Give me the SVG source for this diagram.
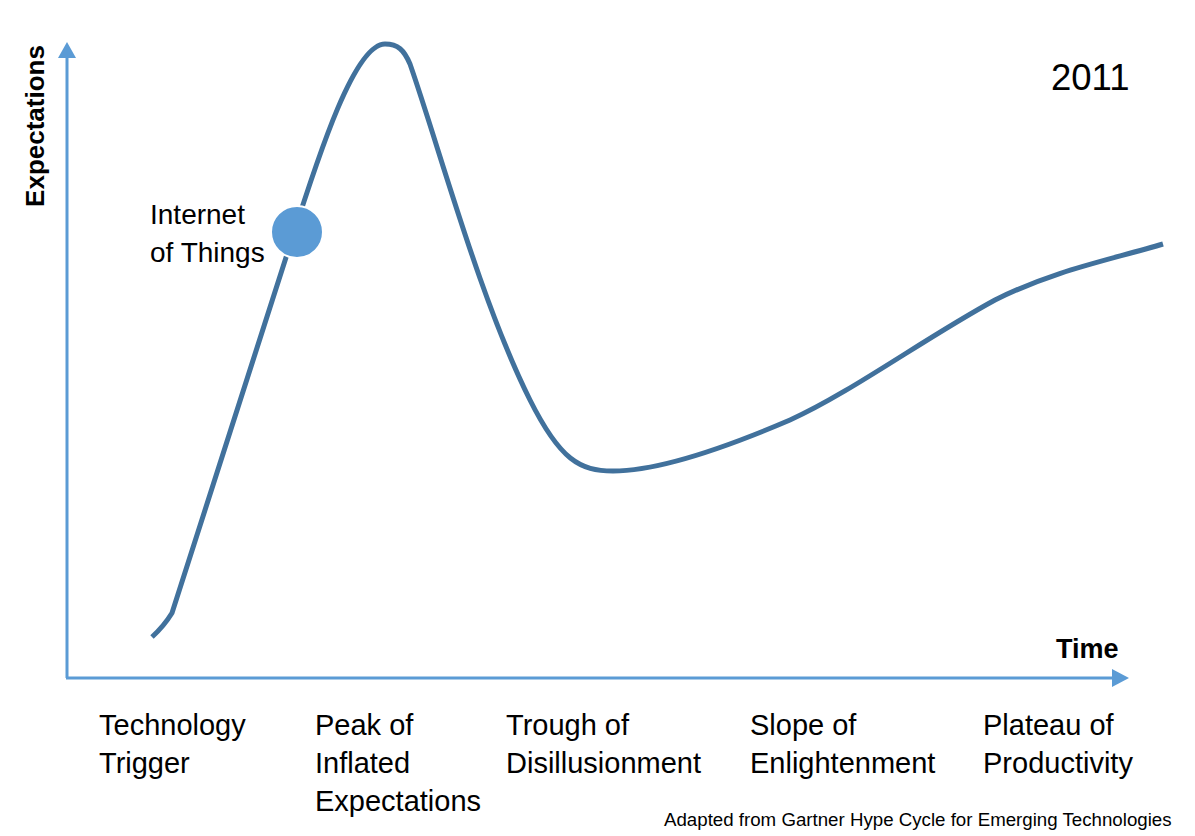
<svg xmlns="http://www.w3.org/2000/svg" width="1195" height="836" viewBox="0 0 1195 836">
<style>
.lbl{font-family:"Liberation Sans",Arial,sans-serif;font-size:29px;fill:#000}
.bold{font-family:"Liberation Sans",Arial,sans-serif;font-weight:bold;font-size:26px;fill:#000}
.axis{stroke:#5b9bd5;stroke-width:3;fill:none}
.head{fill:#5b9bd5}
.curve{stroke:#41719c;stroke-width:5;fill:none;stroke-linejoin:round}
</style>
<rect width="1195" height="836" fill="#fff"/>
<g id="connectors">
  <line class="axis" x1="67" y1="678" x2="67" y2="56"/>
  <polygon class="head" points="67,42 58,58 76,58"/>
  <line class="axis" x1="66" y1="678" x2="1114" y2="678"/>
  <polygon class="head" points="1129,678 1112,669 1112,687"/>
  <path class="curve" d="M152,637 Q164,626 172,613 L290,245 C320,150 355,44 385,44 C398,44 404,50 410,64 C440,150 480,300 530,400 C560,460 580,471 613,471 C655,471 720,450 790,420 C850,393 925,338 995,300 C1055,270 1110,260 1163,244"/>
</g>
<g id="axis-labels">
  <text class="bold" transform="translate(44,126) rotate(-90)" text-anchor="middle">Expectations</text>
  <text class="bold" x="1056" y="658" style="font-size:27px">Time</text>
</g>
<g id="year"><text class="lbl" x="1051" y="90" style="font-size:36.5px">2011</text></g>
<g id="iot">
  <circle cx="297" cy="232" r="26" fill="#5b9bd5" stroke="#fff" stroke-width="2"/>
  <text class="lbl" x="150" y="224" style="font-size:28px">Internet</text>
  <text class="lbl" x="150" y="262" style="font-size:28px">of Things</text>
</g>
<g id="phase-trigger">
  <text class="lbl" x="99" y="735">Technology</text>
  <text class="lbl" x="99" y="773">Trigger</text>
</g>
<g id="phase-peak">
  <text class="lbl" x="315" y="735">Peak of</text>
  <text class="lbl" x="315" y="773">Inflated</text>
  <text class="lbl" x="315" y="811">Expectations</text>
</g>
<g id="phase-trough">
  <text class="lbl" x="506" y="735">Trough of</text>
  <text class="lbl" x="506" y="773">Disillusionment</text>
</g>
<g id="phase-slope">
  <text class="lbl" x="750" y="735">Slope of</text>
  <text class="lbl" x="750" y="773">Enlightenment</text>
</g>
<g id="phase-plateau">
  <text class="lbl" x="983" y="735">Plateau of</text>
  <text class="lbl" x="983" y="773">Productivity</text>
</g>
<g id="footer"><text class="lbl" x="664" y="826" style="font-size:18.7px">Adapted from Gartner Hype Cycle for Emerging Technologies</text></g>
</svg>
